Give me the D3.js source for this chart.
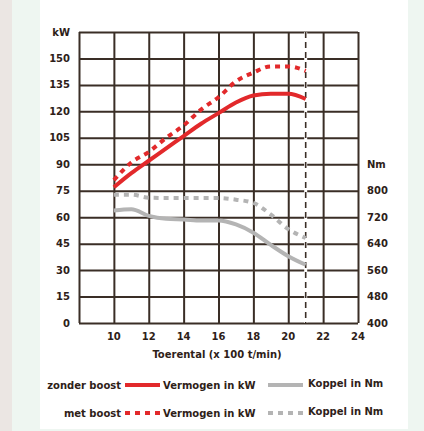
<!DOCTYPE html>
<html>
<head>
<meta charset="utf-8">
<script src="https://cdn.jsdelivr.net/npm/d3@7"></script>
<style>
  html, body { margin: 0; padding: 0; }
  body { width: 424px; height: 431px; background: #eef6f1; overflow: hidden; }
  text { font-family: "DejaVu Sans", sans-serif; font-weight: bold; fill: #2e2118; }
</style>
</head>
<body>
<div id="chart"></div>
<script>
// Toerental (x-axis) values
const rpm = [10, 11, 12, 13, 14, 15, 16, 17, 18, 19, 20, 21];

// Vermogen in kW
const powerNoBoost = [77, 85, 92, 99, 106, 113, 119, 125, 129, 130, 130, 127];
const powerBoost   = [81, 91, 97, 105, 112, 121, 128, 137, 142, 145.5, 145.5, 143];

// Koppel in Nm
const torqueNoBoost = [740, 744, 724, 715, 713, 710, 710, 698, 673, 636, 602, 576];
const torqueBoost   = [788, 788, 779, 778, 778, 778, 778, 773, 763, 728, 684, 657];

// axis ticks
const xTicks = [10, 12, 14, 16, 18, 20, 22, 24];
const kwTicks = [0, 15, 30, 45, 60, 75, 90, 105, 120, 135, 150];
const nmTicks = [400, 480, 560, 640, 720, 800];
const maxRpm = 21;

const W = 424, H = 431;
const plot = { left: 79, right: 358, top: 32, bottom: 323 };

const svg = d3.select("#chart").append("svg")
  .attr("width", W)
  .attr("height", H);

// background panels
svg.append("rect").attr("x", 0).attr("y", 0).attr("width", 12).attr("height", H).attr("fill", "#ebe6e3");
svg.append("rect").attr("x", 40).attr("y", 0).attr("width", 368).attr("height", 429).attr("fill", "#ffffff");

const x = d3.scaleLinear().domain([8, 24]).range([plot.left, plot.right]);
const yKw = d3.scaleLinear().domain([0, 165]).range([plot.bottom, plot.top]);
const yNm = d3.scaleLinear().domain([400, 800]).range([plot.bottom, yKw(75)]);

const gridColor = "#3a2e26";

// grid
const g = svg.append("g");
g.append("g")
  .attr("transform", `translate(0,${plot.bottom})`)
  .call(d3.axisBottom(x).tickValues(d3.range(8, 25, 2)).tickSize(-(plot.bottom - plot.top)).tickFormat(""))
  .call(a => a.select(".domain").remove())
  .call(a => a.selectAll("line").attr("stroke", gridColor).attr("stroke-width", 2));
g.append("g")
  .attr("transform", `translate(${plot.left},0)`)
  .call(d3.axisLeft(yKw).tickValues(d3.range(0, 166, 15)).tickSize(-(plot.right - plot.left)).tickFormat(""))
  .call(a => a.select(".domain").remove())
  .call(a => a.selectAll("line").attr("stroke", gridColor).attr("stroke-width", 2));

// max rpm dashed line
g.append("line")
  .attr("x1", x(maxRpm)).attr("x2", x(maxRpm))
  .attr("y1", plot.top).attr("y2", plot.bottom)
  .attr("stroke", "#ffffff").attr("stroke-width", 3);
g.append("line")
  .attr("x1", x(maxRpm)).attr("x2", x(maxRpm))
  .attr("y1", plot.top).attr("y2", plot.bottom)
  .attr("stroke", gridColor).attr("stroke-width", 1.6)
  .attr("stroke-dasharray", "6,4");

const fs = "10px";

// left axis labels
svg.append("g").selectAll("text")
  .data(kwTicks)
  .enter().append("text")
  .attr("x", 70)
  .attr("y", d => yKw(d))
  .attr("dy", "0.35em")
  .attr("text-anchor", "end")
  .style("font-size", fs)
  .text(d => d);
svg.append("text")
  .attr("x", 70).attr("y", yKw(165)).attr("dy", "0.35em")
  .attr("text-anchor", "end").style("font-size", fs)
  .text("kW");

// right axis labels
svg.append("g").selectAll("text")
  .data(nmTicks)
  .enter().append("text")
  .attr("x", 367)
  .attr("y", d => yNm(d))
  .attr("dy", "0.35em")
  .style("font-size", fs)
  .text(d => d);
svg.append("text")
  .attr("x", 367).attr("y", yNm(880)).attr("dy", "0.35em")
  .style("font-size", fs)
  .text("Nm");

// bottom labels
svg.append("g").selectAll("text")
  .data(xTicks)
  .enter().append("text")
  .attr("x", d => x(d))
  .attr("y", 336)
  .attr("dy", "0.35em")
  .attr("text-anchor", "middle")
  .style("font-size", fs)
  .text(d => d);
svg.append("text")
  .attr("x", 217).attr("y", 354).attr("dy", "0.35em")
  .attr("text-anchor", "middle").style("font-size", fs)
  .text("Toerental (x 100 t/min)");

// curves
const lineKw = d3.line().x((d, i) => x(rpm[i])).y(d => yKw(d)).curve(d3.curveMonotoneX);
const lineNm = d3.line().x((d, i) => x(rpm[i])).y(d => yNm(d)).curve(d3.curveMonotoneX);

const red = "#e2292b", gray = "#b4b4b4";
const series = [
  { data: torqueNoBoost, gen: lineNm, color: gray, dash: null },
  { data: torqueBoost, gen: lineNm, color: gray, dash: "5,5" },
  { data: powerNoBoost, gen: lineKw, color: red, dash: null },
  { data: powerBoost, gen: lineKw, color: red, dash: "5,5" }
];
series.forEach(s => {
  svg.append("path")
    .datum(s.data)
    .attr("fill", "none")
    .attr("stroke", s.color)
    .attr("stroke-width", 4)
    .attr("stroke-dasharray", s.dash)
    .attr("d", s.gen);
});

// legend
const legendRows = [
  { label: "zonder boost", dash: null, y: 385 },
  { label: "met boost", dash: "5,5", y: 413 }
];
legendRows.forEach(r => {
  svg.append("text").attr("x", 121).attr("y", r.y).attr("dy", "0.35em")
    .attr("text-anchor", "end").style("font-size", fs).text(r.label);
  svg.append("line").attr("x1", 125).attr("x2", 160).attr("y1", r.y).attr("y2", r.y)
    .attr("stroke", red).attr("stroke-width", 4).attr("stroke-dasharray", r.dash);
  svg.append("text").attr("x", 163).attr("y", r.y).attr("dy", "0.35em")
    .style("font-size", fs).text("Vermogen in kW");
  svg.append("line").attr("x1", 268).attr("x2", 303).attr("y1", r.y).attr("y2", r.y)
    .attr("stroke", gray).attr("stroke-width", 4).attr("stroke-dasharray", r.dash);
  svg.append("text").attr("x", 308).attr("y", r.y - 2).attr("dy", "0.35em")
    .style("font-size", fs).text("Koppel in Nm");
});
</script>
</body>
</html>
